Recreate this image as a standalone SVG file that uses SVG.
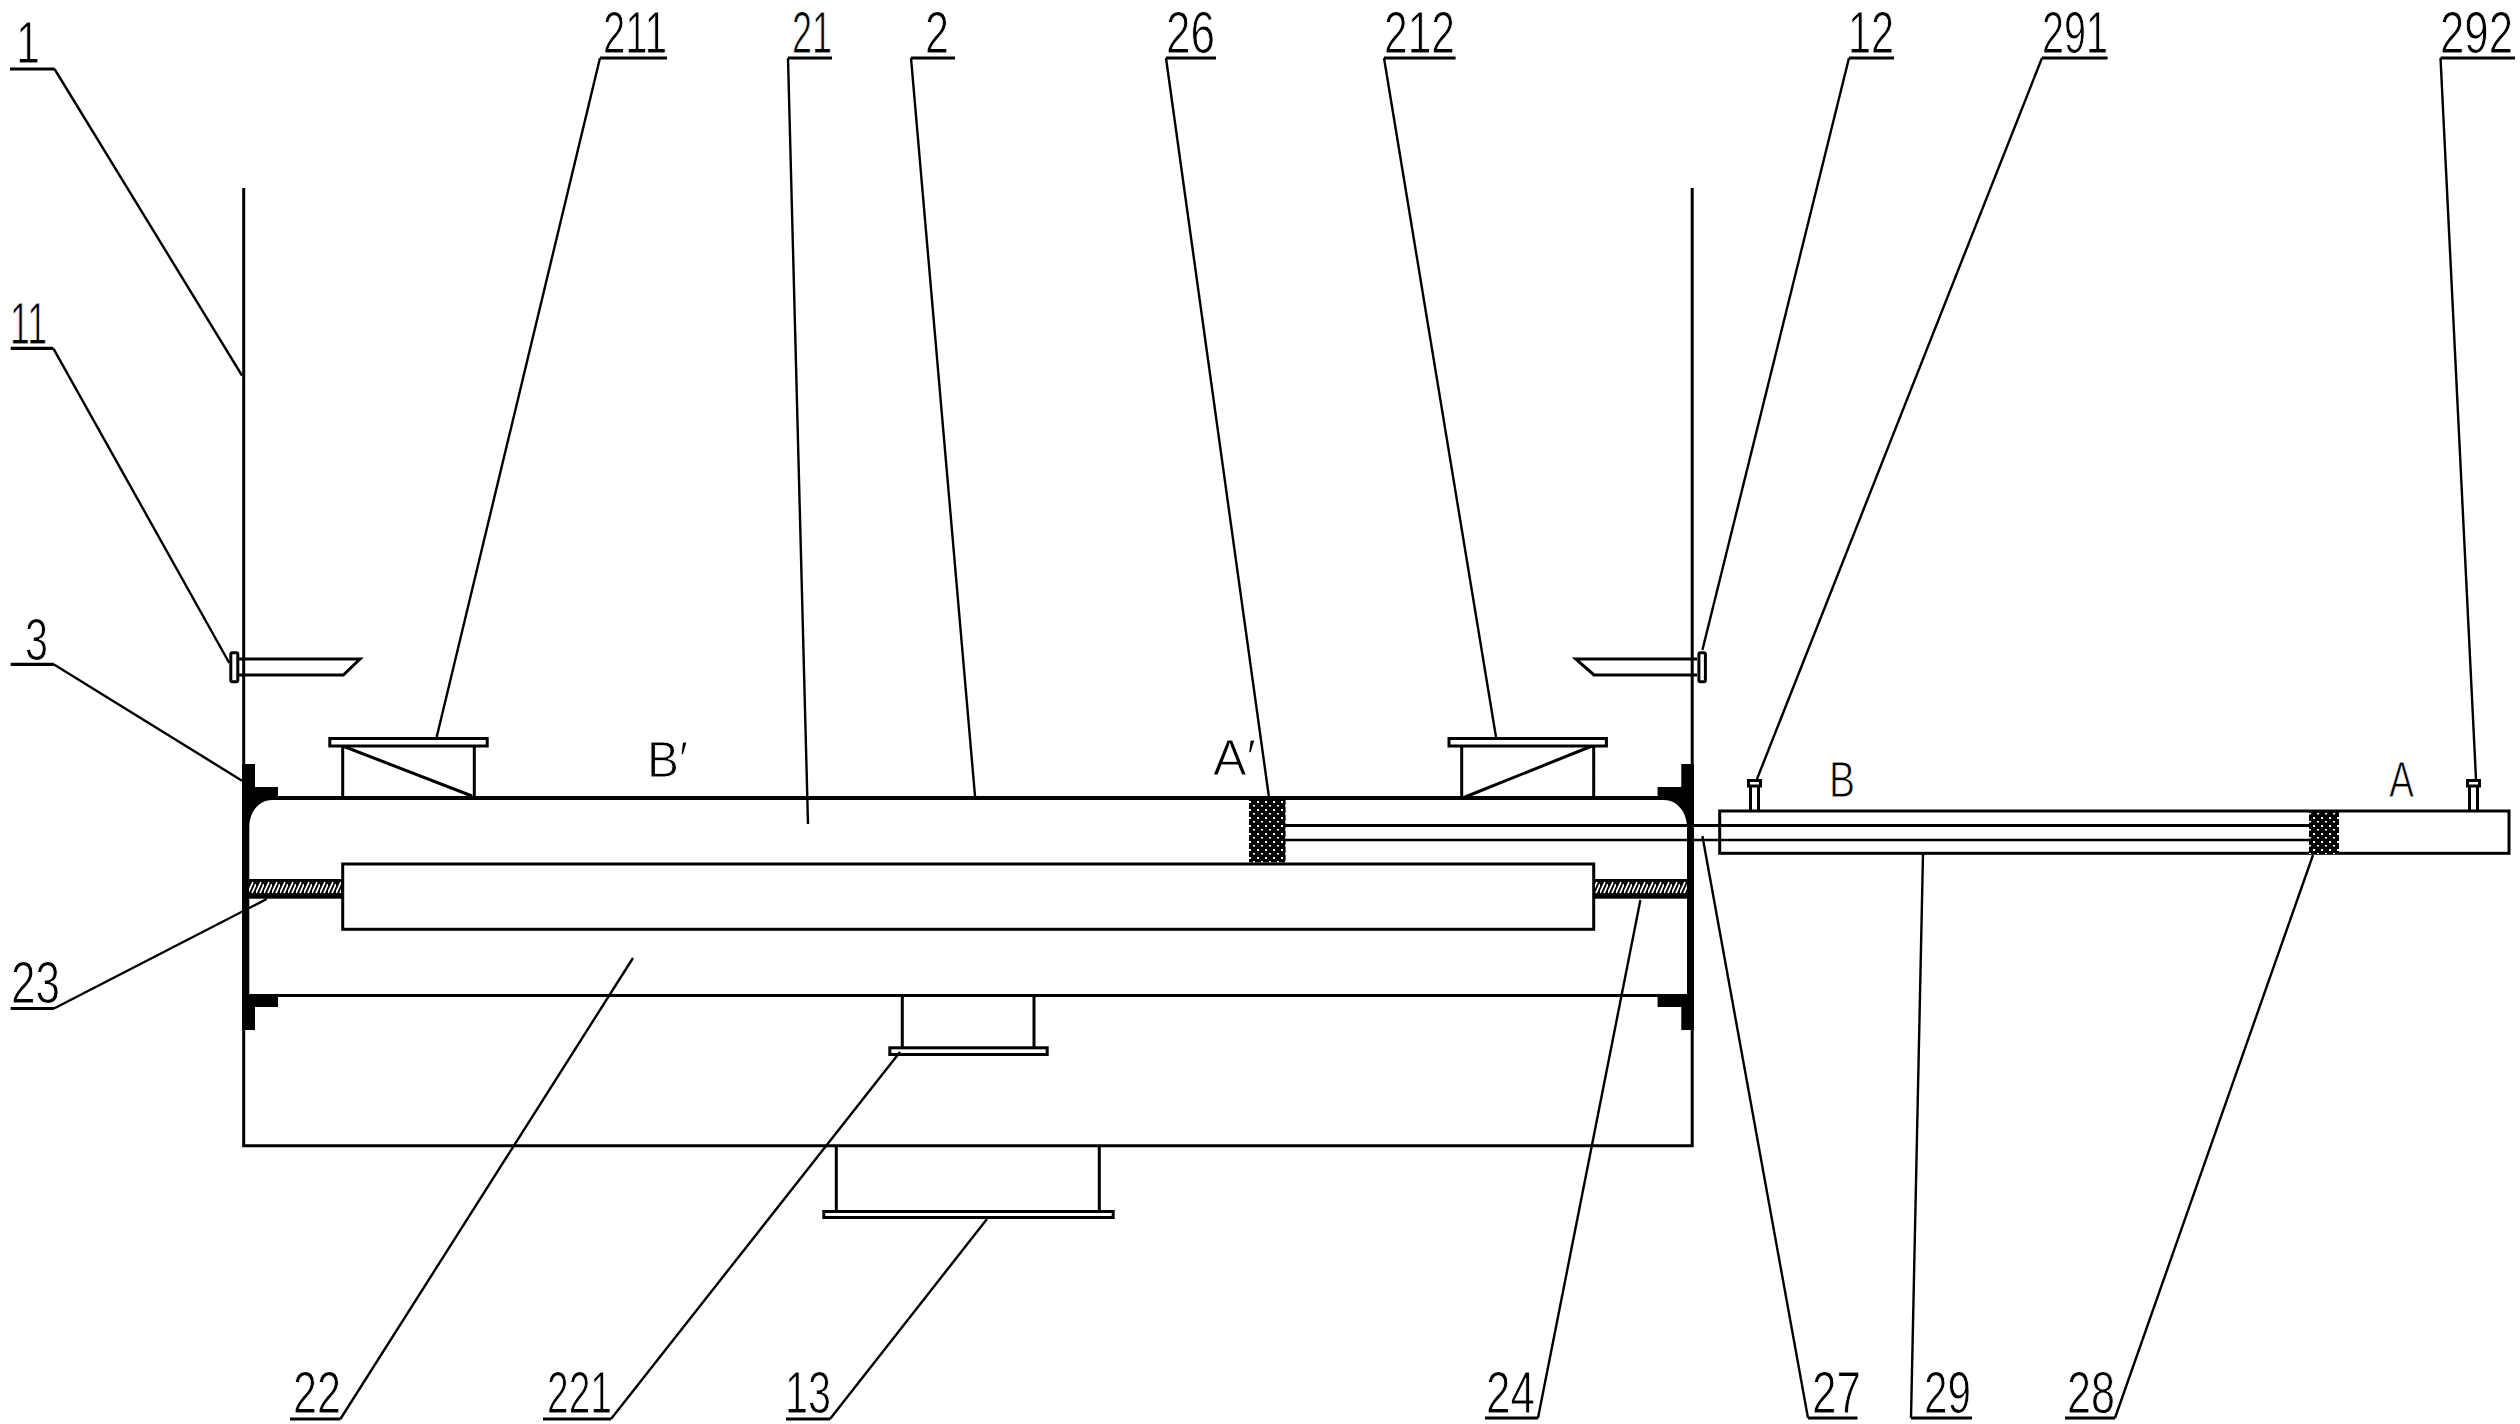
<svg xmlns="http://www.w3.org/2000/svg" width="2520" height="1424" viewBox="0 0 2520 1424">
<style>
.bg{fill:#fff}
.s{fill:none;stroke:#000;stroke-width:3}
.w{fill:#fff;stroke:#000;stroke-width:3}
.k{fill:#000;stroke:none}
.t{stroke:#000;stroke-width:2.4;fill:none}
.u{stroke:#000;stroke-width:3.2;fill:none}
text{font-family:"Liberation Sans Narrow","Liberation Sans",Arial,sans-serif;fill:#000;stroke:#fff;stroke-width:1;font-size:60px}
.m{font-size:50px}
</style>
<defs>
<pattern id="dots" width="8" height="8" patternUnits="userSpaceOnUse">
<rect width="8" height="8" fill="#000"/>
<rect x="1" y="1" width="2" height="2" fill="#fff"/>
<rect x="5" y="5" width="2" height="1.5" fill="#fff"/>
</pattern>
<pattern id="hatch" width="8" height="13" patternUnits="userSpaceOnUse" patternTransform="translate(0 881)">
<rect width="8" height="13" fill="#000"/>
<path d="M0,12 L5,1 M4,12 L8,3" stroke="#fff" stroke-width="1.8"/>
</pattern>
</defs>
<rect class="bg" width="2520" height="1424"/>
<g id="labels-text">
<g id="label-1"><text x="16" y="63" textLength="24" lengthAdjust="spacingAndGlyphs">1</text><path class="u" d="M10,69H54.500"/></g>
<g id="label-11"><text x="10" y="344" textLength="37" lengthAdjust="spacingAndGlyphs">11</text><path class="u" d="M10.700,348.300H53.300"/></g>
<g id="label-3"><text x="25" y="659.500" textLength="23" lengthAdjust="spacingAndGlyphs">3</text><path class="u" d="M10.700,664.400H54"/></g>
<g id="label-23"><text x="11" y="1003" textLength="49" lengthAdjust="spacingAndGlyphs">23</text><path class="u" d="M10.700,1008.500H54"/></g>
<g id="label-211"><text x="603" y="53" textLength="64" lengthAdjust="spacingAndGlyphs">211</text><path class="u" d="M600,58H667"/></g>
<g id="label-21"><text x="792" y="53" textLength="40" lengthAdjust="spacingAndGlyphs">21</text><path class="u" d="M788,58H832"/></g>
<g id="label-2"><text x="925" y="53" textLength="24" lengthAdjust="spacingAndGlyphs">2</text><path class="u" d="M911,58H955"/></g>
<g id="label-26"><text x="1166" y="53" textLength="49" lengthAdjust="spacingAndGlyphs">26</text><path class="u" d="M1166,58H1216"/></g>
<g id="label-212"><text x="1384" y="53" textLength="71" lengthAdjust="spacingAndGlyphs">212</text><path class="u" d="M1384,58H1455.600"/></g>
<g id="label-12"><text x="1848" y="53" textLength="46" lengthAdjust="spacingAndGlyphs">12</text><path class="u" d="M1849,58H1894"/></g>
<g id="label-291"><text x="2042" y="53" textLength="66" lengthAdjust="spacingAndGlyphs">291</text><path class="u" d="M2042,58H2107.600"/></g>
<g id="label-292"><text x="2513" y="53" text-anchor="end" textLength="73" lengthAdjust="spacingAndGlyphs">292</text><path class="u" d="M2440.500,58H2515"/></g>
<g id="label-22"><text x="293" y="1413" textLength="48" lengthAdjust="spacingAndGlyphs">22</text><path class="u" d="M290,1419H340.400"/></g>
<g id="label-221"><text x="547" y="1413" textLength="65" lengthAdjust="spacingAndGlyphs">221</text><path class="u" d="M543,1419H611"/></g>
<g id="label-13"><text x="785" y="1413" textLength="46" lengthAdjust="spacingAndGlyphs">13</text><path class="u" d="M786,1419H830"/></g>
<g id="label-24"><text x="1486" y="1413" textLength="49" lengthAdjust="spacingAndGlyphs">24</text><path class="u" d="M1485,1418H1538"/></g>
<g id="label-27"><text x="1812" y="1413" textLength="49" lengthAdjust="spacingAndGlyphs">27</text><path class="u" d="M1808,1418H1857.500"/></g>
<g id="label-29"><text x="1924" y="1413" textLength="47" lengthAdjust="spacingAndGlyphs">29</text><path class="u" d="M1911,1418H1972"/></g>
<g id="label-28"><text x="2067" y="1413" textLength="48" lengthAdjust="spacingAndGlyphs">28</text><path class="u" d="M2065,1418H2115"/></g>
<g id="mark-Bp"><text class="m" x="647" y="777" textLength="41" lengthAdjust="spacingAndGlyphs">B′</text></g>
<g id="mark-Ap"><text class="m" x="1213" y="775" textLength="43" lengthAdjust="spacingAndGlyphs">A′</text></g>
<g id="mark-B"><text class="m" x="1829" y="797" textLength="26" lengthAdjust="spacingAndGlyphs">B</text></g>
<g id="mark-A"><text class="m" x="2389" y="797" textLength="25" lengthAdjust="spacingAndGlyphs">A</text></g>
</g>
<g id="tank-1">
<path class="s" d="M243.700,188V1145.700H1692.200V188"/>
</g>
<g id="nozzle-13"><path class="s" d="M836.300,1146V1211M1099.300,1146V1211"/><rect class="w" x="823.800" y="1211.500" width="289.400" height="6"/></g>
<g id="lug-11"><path class="s" d="M239,659H360L343.300,675H239"/><rect class="w" x="230.800" y="652.800" width="7" height="29" rx="1.500"/></g>
<g id="lug-12"><path class="s" d="M1697,659H1575.700L1594,675H1697"/><rect class="w" x="1698.900" y="652.800" width="6.500" height="29" rx="1.500"/></g>
<g id="shell-2">
<path class="s" d="M272,798H1664" style="stroke-width:4"/>
<path class="s" d="M249,995.500H1688"/>
<g id="flange-3">
<path class="k" d="M242,764H255V787H278V800H272C259,800 249.300,812 249.300,827V994H278V1007H255V1030H242Z"/>
<path class="k" d="M1694,764H1681.300V787H1657.600V800H1664C1677,800 1687,812 1687,827V994H1657.600V1007H1681.300V1030H1694Z"/>
</g>
</g>
<g id="chamber-22"><rect class="w" x="342.700" y="864" width="1251" height="65.300"/></g>
<g id="seal-23"><rect class="k" x="249" y="879" width="93" height="19.700"/><rect fill="url(#hatch)" x="249" y="881" width="92" height="13"/></g>
<g id="seal-24"><rect class="k" x="1594" y="879" width="93" height="19.700"/><rect fill="url(#hatch)" x="1595" y="881" width="92" height="13"/></g>
<g id="nozzle-211"><path class="s" d="M342.700,747V797M474.300,747V797M342.700,746L472,796"/><rect class="w" x="329.800" y="738.500" width="157.400" height="7.500"/></g>
<g id="nozzle-212"><path class="s" d="M1461.700,747V797M1593.700,747V797M1465,797L1592,746"/><rect class="w" x="1449" y="738.500" width="157.400" height="7.500"/></g>
<g id="nozzle-221"><path class="s" d="M902.300,995V1047M1034,995V1047"/><rect class="w" x="889.800" y="1047.800" width="157.400" height="6.700"/></g>
<g id="outer-tube-29"><rect class="s" x="1719.700" y="811" width="789.300" height="42.300"/></g>
<g id="tubes-27"><path class="s" d="M1285,825.600H2310"/><path class="t" d="M1285,840H2310"/></g>
<g id="plug-26"><rect fill="url(#dots)" x="1249" y="800" width="36.600" height="62.500"/></g>
<g id="plug-28"><rect fill="url(#dots)" x="2309" y="811" width="30" height="43"/></g>
<g id="valve-291"><path class="s" d="M1750.500,787V810M1758.500,787V810"/><rect class="w" x="1748.500" y="780.500" width="12" height="5.500"/></g>
<g id="valve-292"><path class="s" d="M2469.500,787V810M2477.500,787V810"/><rect class="w" x="2467.500" y="780.500" width="12" height="5.500"/></g>
<g id="connectors" class="t">
<path d="M54.500,69L242,375.500"/>
<path d="M53.300,348.300L229.300,663"/>
<path d="M54,664.400L242,780.700"/>
<path d="M54,1008.500L266.700,899"/>
<path d="M600,58L436.700,737"/>
<path d="M788,58L808,824"/>
<path d="M911,58L975,796"/>
<path d="M1166,58L1268.800,796"/>
<path d="M1384,58L1496,737"/>
<path d="M1849,58L1702.400,650"/>
<path d="M2042,58L1757,779"/>
<path d="M2440.500,58L2476,779"/>
<path d="M340.400,1419L633,958"/>
<path d="M611,1419L900,1052"/>
<path d="M830,1419L987,1219"/>
<path d="M1538,1418L1640.400,900"/>
<path d="M1808,1418L1702.400,836"/>
<path d="M1911,1418L1923,854"/>
<path d="M2115,1418L2313,855"/>
</g>
</svg>
